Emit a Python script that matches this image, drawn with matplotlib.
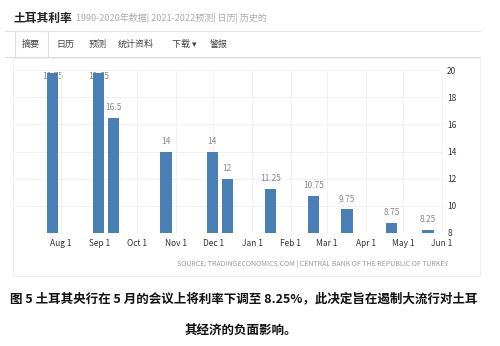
import matplotlib.pyplot as plt
import matplotlib.dates as mdates
from matplotlib.patches import Rectangle
import numpy as np
import datetime as dt

plt.rcParams['font.family'] = ['Noto Sans CJK SC', 'DejaVu Sans']

# 数据
dates = ["2019-07-25", "2019-08-31", "2019-09-12", "2019-10-24", "2019-11-30",
         "2019-12-12", "2020-01-16", "2020-02-19", "2020-03-17", "2020-04-22",
         "2020-05-21"]
rates = [19.75, 19.75, 16.5, 14, 14, 12, 11.25, 10.75, 9.75, 8.75, 8.25]
labels = ["19.75", "19.75", "16.5", "14", "14", "12", "11.25", "10.75", "9.75", "8.75", "8.25"]
month_ticks = ["2019-08-01", "2019-09-01", "2019-10-01", "2019-11-01", "2019-12-01",
               "2020-01-01", "2020-02-01", "2020-03-01", "2020-04-01", "2020-05-01",
               "2020-06-01"]
month_labels = ["Aug 1", "Sep 1", "Oct 1", "Nov 1", "Dec 1", "Jan 1", "Feb 1",
                "Mar 1", "Apr 1", "May 1", "Jun 1"]
y_ticks = [8, 10, 12, 14, 16, 18, 20]
tabs = ["摘要", "日历", "预测", "统计资料", "下载 ▾", "警报"]
tab_x = [31, 65, 98, 136, 184, 219]

x = mdates.datestr2num(dates)
xt = mdates.datestr2num(month_ticks)

fig = plt.figure(figsize=(5, 3.46), dpi=100)
W, H = 500, 346

def fx(px):
    return px / W

def fy(py):
    return 1 - py / H

# 顶部标题
fig.text(fx(14), fy(18), "土耳其利率", fontsize=8.5, fontweight='bold', color='#222222', va='center')
fig.text(fx(76), fy(18), "1990-2020年数据| 2021-2022预测| 日历| 历史的", fontsize=6.5,
         color='#aaaaaa', va='center')
fig.add_artist(plt.Line2D([fx(5), fx(480)], [fy(31), fy(31)], color='#e4e4e4', lw=0.8))
fig.add_artist(plt.Line2D([fx(5), fx(480)], [fy(57), fy(57)], color='#dddddd', lw=0.8))
fig.add_artist(Rectangle((fx(15), fy(57)), fx(33), fy(31) - fy(57), facecolor='white',
                         edgecolor='#dddddd', lw=0.8))
for t, tx in zip(tabs, tab_x):
    fig.text(fx(tx), fy(44), t, fontsize=6.5, color='#444444', ha='center', va='center')

# 图表面板边框
fig.add_artist(Rectangle((fx(13), fy(276)), fx(467), fy(58) - fy(276), facecolor='none',
                         edgecolor='#f0f0f0', lw=0.8))

ax = fig.add_axes([fx(15), fy(233), fx(428), fy(70) - fy(233)])
ax.bar(x, np.minimum(rates, 20) - 8, bottom=8, width=9, color='#4a7fb5', zorder=3)
for xi, r, lab in zip(x, rates, labels):
    yy = min(r, 20)
    if r >= 20 - 0.3:
        ax.text(xi, 19.85, lab, ha='center', va='top', fontsize=6, color='#888888', zorder=1)
    else:
        ax.text(xi, r + 0.4, lab, ha='center', va='bottom', fontsize=6, color='#888888', zorder=4)

ax.set_ylim(8, 20)
ax.set_xlim(mdates.datestr2num("2019-06-25"), mdates.datestr2num("2020-06-02"))
ax.set_xticks(xt)
ax.set_xticklabels(month_labels, fontsize=6, color='#333333')
ax.yaxis.tick_right()
ax.set_yticks(y_ticks)
ax.set_yticklabels([str(v) for v in y_ticks], fontsize=6, color='#333333')
ax.tick_params(length=0, pad=4)
ax.tick_params(axis='y', pad=3)
ax.grid(True, color='#f2f2f2', lw=0.8, zorder=0)
for s in ax.spines.values():
    s.set_visible(False)

fig.text(fx(448), fy(264), "SOURCE: TRADINGECONOMICS.COM | CENTRAL BANK OF THE REPUBLIC OF TURKEY",
         fontsize=5, color='#999999', ha='right', va='center')

# 图注
fig.text(fx(244), fy(299), "图 5 土耳其央行在 5 月的会议上将利率下调至 8.25%，此决定旨在遏制大流行对土耳",
         fontsize=9, fontweight='bold', color='#111111', ha='center', va='center')
fig.text(fx(241), fy(330), "其经济的负面影响。", fontsize=9, fontweight='bold', color='#111111',
         ha='center', va='center')

plt.savefig("out.png", dpi=100)
